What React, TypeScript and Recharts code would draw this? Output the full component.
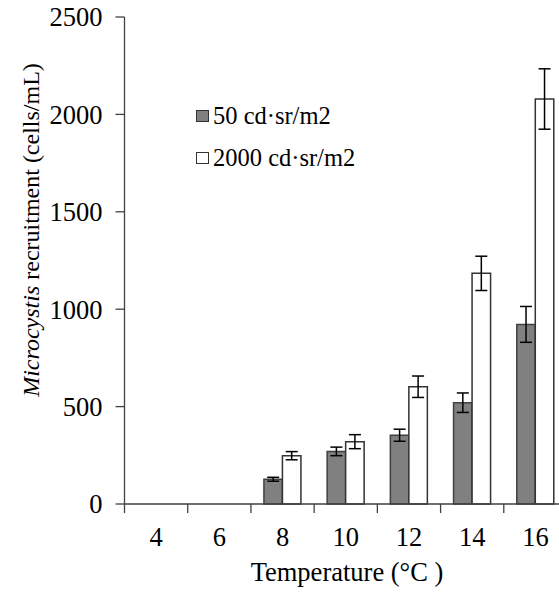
import React from "react";
import { BarChart, Bar, XAxis, YAxis, ErrorBar } from "recharts";

const temperatures = ["4", "6", "8", "10", "12", "14", "16"];
const lowLight: (number | null)[] = [null, null, 127, 270, 353, 520, 922];
const lowLightErr: (number | null)[] = [null, null, 10, 22, 31, 50, 92];
const highLight: (number | null)[] = [null, null, 248, 320, 602, 1184, 2079];
const highLightErr: (number | null)[] = [null, null, 21, 36, 55, 88, 155];
const yTicks = [0, 500, 1000, 1500, 2000, 2500];
const seriesNames = ["50 cd·sr/m2", "2000 cd·sr/m2"];
const seriesFills = ["#808080", "#ffffff"];

const data = temperatures.map((t, i) => ({
  temp: t,
  low: lowLight[i],
  lowErr: lowLightErr[i],
  high: highLight[i],
  highErr: highLightErr[i],
}));

const FONT = "Liberation Serif";
const CHART_W = 600;
const CHART_H = 594;
const X_H = 30;
const MARGIN = { top: 17, right: 33, left: 0, bottom: 90 - X_H };
const Y_W = 124.5;
const PLOT_W = CHART_W - MARGIN.left - MARGIN.right - Y_W;
const BAND = PLOT_W / temperatures.length;
const AXIS_COLOR = "#404040";
const TICK_FONT = 26.5;

const XTick = (props: any) => {
  const { x, y, payload } = props;
  return (
    <g>
      <line x1={x - BAND / 2} x2={x - BAND / 2} y1={y} y2={y + 9} stroke={AXIS_COLOR} strokeWidth={1.3} />
      <text x={x} y={y + 42} textAnchor="middle" style={{ fontFamily: FONT, fontSize: TICK_FONT }} fill="#000">
        {payload.value}
      </text>
    </g>
  );
};

export default function App() {
  return (
    <div style={{ position: "absolute", left: 0, top: 0, width: 559, height: 594, overflow: "hidden", background: "#fff" }}>
      <BarChart width={CHART_W} height={CHART_H} data={data} margin={MARGIN} barGap={0} barSize={18.5}>
        <XAxis
          dataKey="temp"
          height={X_H}
          tick={<XTick />}
          tickLine={false}
          tickSize={0}
          tickMargin={0}
          interval={0}
          stroke={AXIS_COLOR}
          strokeWidth={1.3}
        />
        <YAxis
          width={Y_W}
          domain={[0, 2500]}
          ticks={yTicks}
          interval={0}
          tickSize={9}
          tickMargin={13}
          stroke={AXIS_COLOR}
          strokeWidth={1.3}
          tick={{ style: { fontFamily: FONT, fontSize: TICK_FONT }, fill: "#000" }}
        />
        <Bar dataKey="low" name={seriesNames[0]} fill={seriesFills[0]} stroke="#404040" strokeWidth={1.5} isAnimationActive={false}>
          <ErrorBar dataKey="lowErr" width={6} stroke="#000" strokeWidth={1.5} direction="y" />
        </Bar>
        <Bar dataKey="high" name={seriesNames[1]} fill={seriesFills[1]} stroke="#333" strokeWidth={1.5} isAnimationActive={false}>
          <ErrorBar dataKey="highErr" width={6} stroke="#000" strokeWidth={1.5} direction="y" />
        </Bar>
        <g>
          {seriesNames.map((n, i) => (
            <g key={n}>
              <rect x={196.5} y={110.5 + i * 42} width={12} height={11} fill={seriesFills[i]} stroke="#333" strokeWidth={1} />
              <text x={213} y={124 + i * 42} style={{ fontFamily: FONT, fontSize: 24.5 }} fill="#000">
                {n}
              </text>
            </g>
          ))}
        </g>
        <text
          transform="translate(31, 230) rotate(-90)"
          textAnchor="middle"
          dominantBaseline="central"
          style={{ fontFamily: FONT, fontSize: 24 }}
          fill="#000"
        >
          <tspan fontStyle="italic">Microcystis</tspan>
          <tspan> recruitment (cells/mL)</tspan>
        </text>
        <text x={347} y={581} textAnchor="middle" style={{ fontFamily: FONT, fontSize: 26.5 }} fill="#000">
          Temperature (°C )
        </text>
      </BarChart>
    </div>
  );
}
